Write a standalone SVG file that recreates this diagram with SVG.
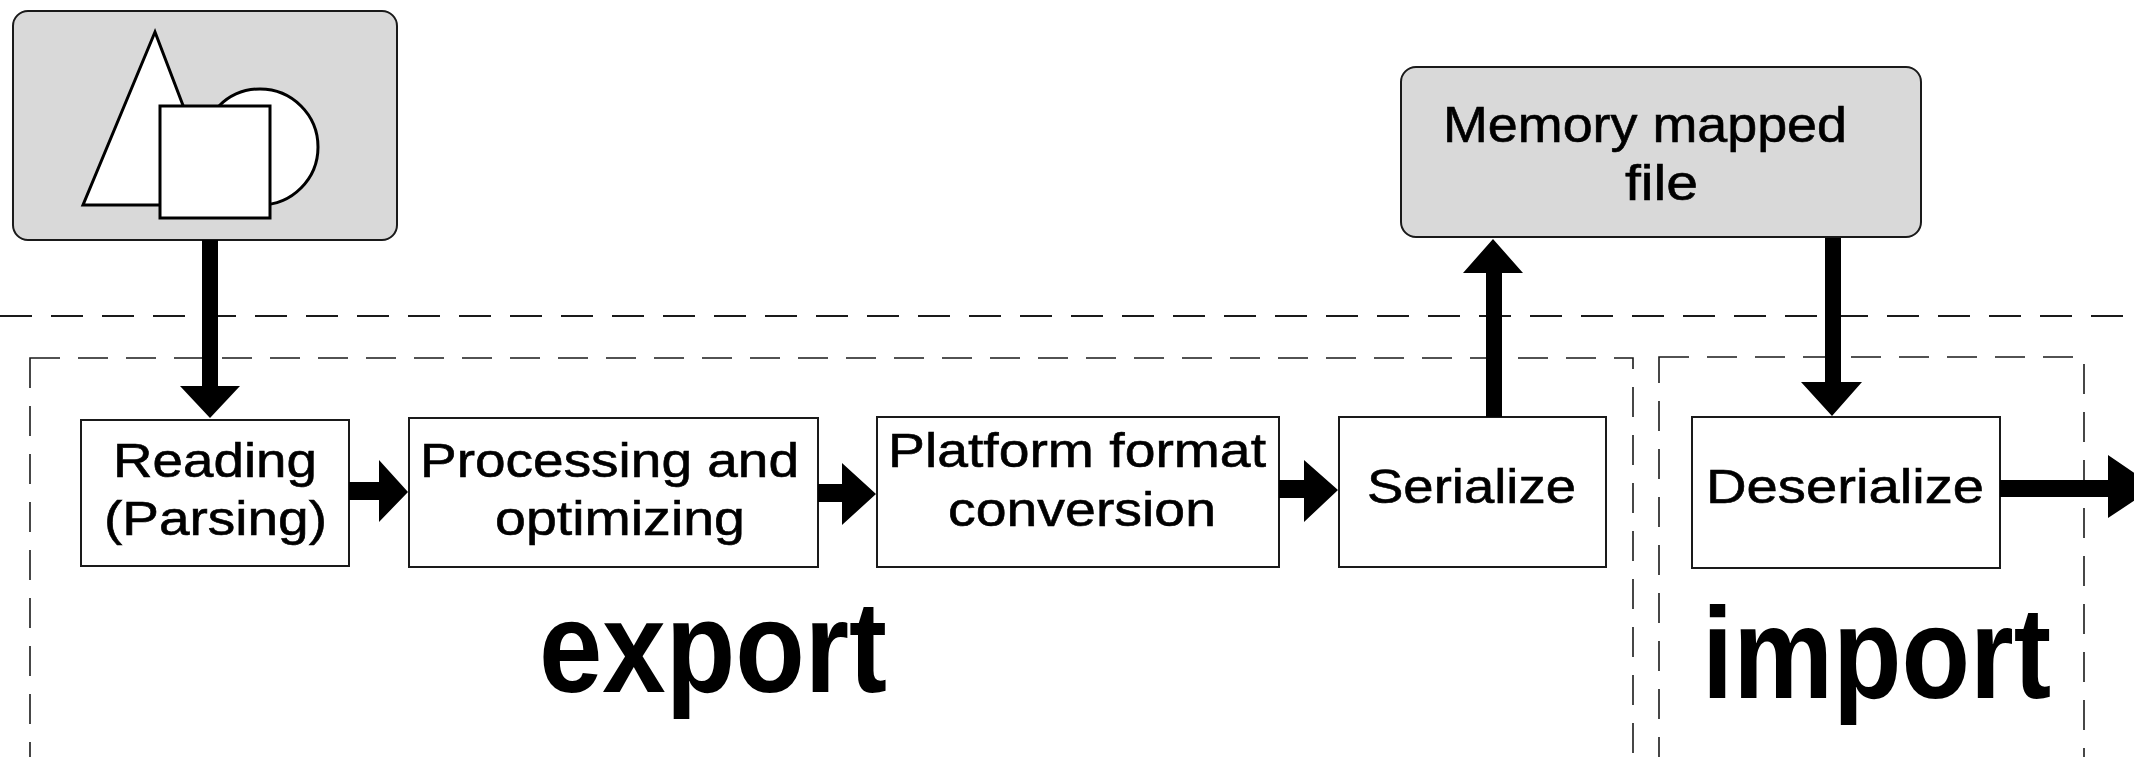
<svg xmlns="http://www.w3.org/2000/svg" width="2134" height="757" viewBox="0 0 2134 757">
<style>
.bg{fill:#ffffff}
.sep{fill:none;stroke:#1a1a1a;stroke-width:2;stroke-dasharray:32 19}
.region{fill:none;stroke:#1a1a1a;stroke-width:1.6;stroke-dasharray:30 18}
.box{fill:#ffffff;stroke:#1a1a1a;stroke-width:2}
.gbox{fill:#d9d9d9;stroke:#1a1a1a;stroke-width:2}
.shape{fill:#ffffff;stroke:#000000;stroke-width:3}
.lbl{font-family:"Liberation Sans",Arial,sans-serif;font-size:49px;fill:#000000;stroke:#000000;stroke-width:0.6}
.big{font-family:"Liberation Sans",Arial,sans-serif;font-size:129px;font-weight:bold;fill:#000000}
.arrow{fill:#000000;stroke:none}
</style>
<rect class="bg" x="0" y="0" width="2134" height="757"/>
<g id="separator">
<line class="sep" x1="0" y1="316" x2="2134" y2="316"/>
</g>
<g id="export-region">
<rect class="region" x="30" y="358" width="1603" height="500"/>
<text class="big" x="539" y="692" textLength="348" lengthAdjust="spacingAndGlyphs">export</text>
</g>
<g id="import-region">
<rect class="region" x="1659" y="357" width="425" height="500"/>
<text class="big" x="1702" y="698" textLength="349" lengthAdjust="spacingAndGlyphs">import</text>
</g>
<g id="source">
<rect class="gbox" x="13" y="11" width="384" height="229" rx="15" ry="15"/>
<polygon class="shape" points="155,32 83,205 221,205"/>
<circle class="shape" cx="260" cy="147" r="58"/>
<rect class="shape" x="160" y="106" width="110" height="112"/>
</g>
<g id="memory">
<rect class="gbox" x="1401" y="67" width="520" height="170" rx="15" ry="15"/>
<text class="lbl" style="font-size:50px" x="1443" y="142" textLength="404" lengthAdjust="spacingAndGlyphs">Memory mapped</text>
<text class="lbl" style="font-size:50px" x="1625" y="200" textLength="73" lengthAdjust="spacingAndGlyphs">file</text>
</g>
<g id="reading">
<rect class="box" x="81" y="420" width="268" height="146"/>
<text class="lbl" x="113" y="477" textLength="204" lengthAdjust="spacingAndGlyphs">Reading</text>
<text class="lbl" x="104" y="535" textLength="223" lengthAdjust="spacingAndGlyphs">(Parsing)</text>
</g>
<g id="processing">
<rect class="box" x="409" y="418" width="409" height="149"/>
<text class="lbl" x="420" y="477" textLength="379" lengthAdjust="spacingAndGlyphs">Processing and</text>
<text class="lbl" x="495" y="535" textLength="250" lengthAdjust="spacingAndGlyphs">optimizing</text>
</g>
<g id="platform">
<rect class="box" x="877" y="417" width="402" height="150"/>
<text class="lbl" x="888" y="467" textLength="378" lengthAdjust="spacingAndGlyphs">Platform format</text>
<text class="lbl" x="948" y="526" textLength="268" lengthAdjust="spacingAndGlyphs">conversion</text>
</g>
<g id="serialize">
<rect class="box" x="1339" y="417" width="267" height="150"/>
<text class="lbl" x="1367" y="503" textLength="209" lengthAdjust="spacingAndGlyphs">Serialize</text>
</g>
<g id="deserialize">
<rect class="box" x="1692" y="417" width="308" height="151"/>
<text class="lbl" x="1706" y="503" textLength="278" lengthAdjust="spacingAndGlyphs">Deserialize</text>
</g>
<g id="connectors">
<polygon class="arrow" points="202,240 218,240 218,386 240,386 210,418 180,386 202,386"/>
<polygon class="arrow" points="349,482 379,482 379,460 408,492 379,522 379,500 349,500"/>
<polygon class="arrow" points="818,484 842,484 842,463 876,494 842,525 842,502 818,502"/>
<polygon class="arrow" points="1279,480 1304,480 1304,460 1338,490 1304,522 1304,498 1279,498"/>
<polygon class="arrow" points="1486,417 1486,273 1463,273 1493,239 1523,273 1502,273 1502,417"/>
<polygon class="arrow" points="1825,238 1841,238 1841,382 1862,382 1832,416 1801,382 1825,382"/>
<polygon class="arrow" points="2000,480 2108,480 2108,455 2155,487 2108,518 2108,497 2000,497"/>
</g>
</svg>
